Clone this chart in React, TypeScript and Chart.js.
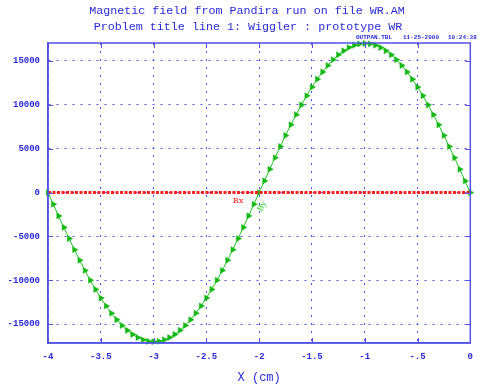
import React, { useEffect, useRef } from "react";
import { Chart, registerables } from "chart.js";

Chart.register(...registerables);

const titleLines = [
  "Magnetic field from Pandira run on file WR.AM",
  "Problem title line 1: Wiggler : prototype WR",
];
const stampTexts = ["OUTPAN.TBL", "11-25-2009", "10:24:38"];

const xPositions = [
  -4, -3.95, -3.9, -3.85, -3.8, -3.75, -3.7, -3.65, -3.6, -3.55,
  -3.5, -3.45, -3.4, -3.35, -3.3, -3.25, -3.2, -3.15, -3.1, -3.05,
  -3, -2.95, -2.9, -2.85, -2.8, -2.75, -2.7, -2.65, -2.6, -2.55,
  -2.5, -2.45, -2.4, -2.35, -2.3, -2.25, -2.2, -2.15, -2.1, -2.05,
  -2, -1.95, -1.9, -1.85, -1.8, -1.75, -1.7, -1.65, -1.6, -1.55,
  -1.5, -1.45, -1.4, -1.35, -1.3, -1.25, -1.2, -1.15, -1.1, -1.05,
  -1, -0.95, -0.9, -0.85, -0.8, -0.75, -0.7, -0.65, -0.6, -0.55,
  -0.5, -0.45, -0.4, -0.35, -0.3, -0.25, -0.2, -0.15, -0.1, -0.05, 0,
];

const byValues = [
  0, -1330, -2660, -3970, -5250, -6510, -7720, -8880, -9990, -11040,
  -12020, -12930, -13750, -14490, -15150, -15710, -16170, -16530, -16790, -16950,
  -17000, -16950, -16790, -16530, -16170, -15710, -15150, -14490, -13750, -12930,
  -12020, -11040, -9990, -8880, -7720, -6510, -5250, -3970, -2660, -1330,
  0, 1330, 2660, 3970, 5250, 6510, 7720, 8880, 9990, 11040,
  12020, 12930, 13750, 14490, 15150, 15710, 16170, 16530, 16790, 16950,
  17000, 16950, 16790, 16530, 16170, 15710, 15150, 14490, 13750, 12930,
  12020, 11040, 9990, 8880, 7720, 6510, 5250, 3970, 2660, 1330, 0,
];

const bxValues = [
  0, 0, 0, 0, 0, 0, 0, 0, 0, 0,
  0, 0, 0, 0, 0, 0, 0, 0, 0, 0,
  0, 0, 0, 0, 0, 0, 0, 0, 0, 0,
  0, 0, 0, 0, 0, 0, 0, 0, 0, 0,
  0, 0, 0, 0, 0, 0, 0, 0, 0, 0,
  0, 0, 0, 0, 0, 0, 0, 0, 0, 0,
  0, 0, 0, 0, 0, 0, 0, 0, 0, 0,
  0, 0, 0, 0, 0, 0, 0, 0, 0, 0, 0,
];

const yTickValues = [-15000, -10000, -5000, 0, 5000, 10000, 15000];
const xTickLabels: Record<string, string> = {
  "-4": "-4", "-3.5": "-3.5", "-3": "-3", "-2.5": "-2.5", "-2": "-2",
  "-1.5": "-1.5", "-1": "-1", "-0.5": "-.5", "0": "0",
};

const BLUE = "#5252e6";
const TEXT_BLUE = "#2a2ad8";
const GREEN = "#1ec81e";
const RED = "#ff2222";

const annotations = {
  id: "annotations",
  afterDraw(chart: any) {
    const { ctx, chartArea } = chart;
    const { left, right, top, bottom } = chartArea;
    ctx.save();
    // frame
    ctx.strokeStyle = BLUE;
    ctx.lineWidth = 1.5;
    ctx.strokeRect(left, top, right - left, bottom - top);
    // inward tick marks
    const xs = chart.scales.x;
    const ys = chart.scales.y;
    ctx.lineWidth = 1;
    xs.ticks.forEach((t: any) => {
      const px = Math.round(xs.getPixelForValue(t.value)) + 0.5;
      ctx.beginPath();
      ctx.moveTo(px, top);
      ctx.lineTo(px, top + 5);
      ctx.moveTo(px, bottom);
      ctx.lineTo(px, bottom - 5);
      ctx.stroke();
    });
    ys.ticks.forEach((t: any) => {
      const py = Math.round(ys.getPixelForValue(t.value)) + 0.5;
      ctx.beginPath();
      ctx.moveTo(left, py);
      ctx.lineTo(left + 5, py);
      ctx.moveTo(right, py);
      ctx.lineTo(right - 5, py);
      ctx.stroke();
    });
    // titles
    ctx.fillStyle = TEXT_BLUE;
    ctx.textAlign = "center";
    ctx.textBaseline = "middle";
    ctx.font = "11.7px 'Liberation Mono', monospace";
    ctx.fillText(titleLines[0], 247, 11);
    ctx.fillText(titleLines[1], 248, 27);
    // stamp
    ctx.font = "bold 6px 'Liberation Mono', monospace";
    ctx.textAlign = "left";
    ctx.fillText(stampTexts[0], 356, 37);
    ctx.fillText(stampTexts[1], 403, 37);
    ctx.fillText(stampTexts[2], 448, 37);
    // curve labels
    ctx.font = "8px 'DejaVu Serif', serif";
    ctx.fillStyle = RED;
    ctx.textAlign = "center";
    ctx.fillText("Bx", xs.getPixelForValue(-2.2), ys.getPixelForValue(0) + 8);
    ctx.fillStyle = GREEN;
    ctx.translate(xs.getPixelForValue(-1.97), ys.getPixelForValue(0) + 14);
    ctx.rotate(-Math.PI / 3);
    ctx.fillText("By", 0, 0);
    ctx.restore();
  },
};

export default function App() {
  const ref = useRef<HTMLCanvasElement | null>(null);
  useEffect(() => {
    if (!ref.current) return;
    const chart = new Chart(ref.current, {
      type: "line",
      data: {
        datasets: [
          {
            label: "Bx",
            data: xPositions.map((x, i) => ({ x, y: bxValues[i] })),
            borderColor: RED,
            borderWidth: 3,
            borderDash: [3, 1.5],
            pointRadius: 0,
            order: 0,
          },
          {
            label: "By",
            data: xPositions.map((x, i) => ({ x, y: byValues[i] })),
            borderColor: GREEN,
            borderWidth: 1,
            pointStyle: "triangle",
            rotation: 90,
            pointRadius: 3.5,
            pointBackgroundColor: "#14b814",
            pointBorderColor: "#14b814",
            pointBorderWidth: 0.5,
            clip: false,
            order: 1,
          },
        ],
      },
      options: {
        responsive: false,
        animation: false,
        devicePixelRatio: 1,
        layout: { padding: { top: 43, right: 8, left: 0, bottom: 0 } },
        plugins: {
          legend: { display: false },
          tooltip: { enabled: false },
          title: { display: false },
        },
        scales: {
          x: {
            type: "linear",
            min: -4,
            max: 0,
            afterFit: (s: any) => {
              s.height = 46;
            },
            ticks: {
              stepSize: 0.5,
              padding: 8,
              color: TEXT_BLUE,
              maxRotation: 0,
              autoSkip: false,
              font: { family: "'Liberation Mono', monospace", size: 9, weight: "bold" },
              callback: (v: any) => xTickLabels[String(Number(v))] ?? String(v),
            },
            grid: { color: BLUE, drawTicks: false, lineWidth: 1 },
            border: { display: true, color: BLUE, width: 1.5, dash: [2, 6] },
            title: {
              display: true,
              text: "X (cm)",
              color: TEXT_BLUE,
              font: { family: "'Liberation Mono', monospace", size: 12 },
              padding: { top: 0, bottom: 4 },
            },
          },
          y: {
            type: "linear",
            min: -17150,
            max: 17050,
            afterFit: (s: any) => {
              s.width = 48;
            },
            afterBuildTicks: (s: any) => {
              s.ticks = yTickValues.map((v) => ({ value: v }));
            },
            ticks: {
              padding: 8,
              color: TEXT_BLUE,
              font: { family: "'Liberation Mono', monospace", size: 9, weight: "bold" },
              callback: (v: any) => String(v),
            },
            grid: { color: BLUE, drawTicks: false, lineWidth: 1 },
            border: { display: true, color: BLUE, width: 1.5, dash: [2, 6] },
          },
        },
      },
      plugins: [annotations],
    });
    return () => chart.destroy();
  }, []);
  return (
    <div style={{ position: "fixed", left: 0, top: 0, width: 481, height: 389, background: "#fff" }}>
      <canvas ref={ref} width={481} height={389} style={{ width: 481, height: 389 }} />
    </div>
  );
}
